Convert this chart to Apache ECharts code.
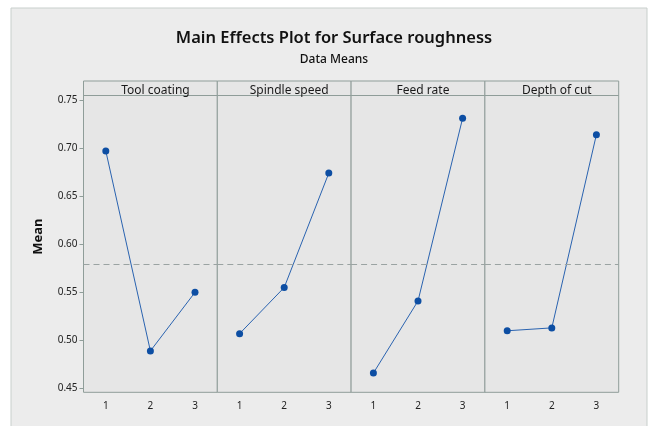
<!DOCTYPE html>
<html>
<head>
<meta charset="utf-8">
<title>Main Effects Plot for Surface roughness</title>
<script src="https://cdn.jsdelivr.net/npm/echarts@6/dist/echarts.min.js"></script>
<style>
  html, body { margin: 0; padding: 0; background: #fff; }
  #chart { width: 652px; height: 426px; }
</style>
</head>
<body>
<div id="chart"></div>
<script>
// factor levels and mean response per level
const factors = ['Tool coating', 'Spindle speed', 'Feed rate', 'Depth of cut'];
const levels = ['1', '2', '3'];
const toolCoating = [0.697, 0.489, 0.550];
const spindleSpeed = [0.507, 0.555, 0.674];
const feedRate = [0.466, 0.541, 0.731];
const depthOfCut = [0.510, 0.513, 0.714];
const grandMean = 0.579;
const yTicks = [0.45, 0.50, 0.55, 0.60, 0.65, 0.70, 0.75];

const seriesData = [toolCoating, spindleSpeed, feedRate, depthOfCut];

const frameColor = '#8f9d99';
const panelLeft = 83.5;
const panelWidth = 133.8;
const panelTop = 81;
const panelHeight = 311.3;
const yMin = 0.4460;
const yMax = 0.7698;
const headerLine = 0.7552; // value where the header strip ends

const chart = echarts.init(document.getElementById('chart'));

const grids = [], xAxes = [], yAxes = [], series = [];
const titles = [
    {
        text: 'Main Effects Plot for Surface roughness',
        left: 329, top: 25, textAlign: 'center',
        textStyle: { fontFamily: 'Noto Sans', fontSize: 16.5, fontWeight: 600, color: '#111' }
    },
    {
        text: 'Data Means',
        left: 329, top: 49, textAlign: 'center',
        textStyle: { fontFamily: 'Noto Sans', fontSize: 12, fontWeight: 500, color: '#111' }
    }
];

factors.forEach((name, i) => {
    const left = panelLeft + i * panelWidth;
    grids.push({
        left: left, top: panelTop, width: panelWidth, height: panelHeight,
        show: true, backgroundColor: '#e6e6e6', borderColor: frameColor, borderWidth: 1
    });
    xAxes.push({
        gridIndex: i,
        type: 'category',
        data: levels,
        boundaryGap: true,
        axisLine: { show: false },
        axisTick: { alignWithLabel: true, length: 4, lineStyle: { color: frameColor } },
        axisLabel: { margin: 9, fontFamily: 'Noto Sans', fontSize: 10, color: '#222' },
        splitLine: { show: false }
    });
    yAxes.push({
        gridIndex: i,
        type: 'value',
        min: yMin, max: yMax,
        show: i === 0,
        name: i === 0 ? 'Mean' : '',
        nameLocation: 'middle',
        nameRotate: 90,
        nameGap: 39,
        nameTextStyle: { fontFamily: 'Noto Sans', fontSize: 13, fontWeight: 'bold', color: '#111' },
        axisLine: { show: false },
        axisTick: { show: true, length: 4, customValues: yTicks, lineStyle: { color: frameColor } },
        axisLabel: {
            customValues: yTicks, margin: 6,
            fontFamily: 'Noto Sans', fontSize: 10, color: '#222',
            formatter: v => v.toFixed(2)
        },
        splitLine: { show: false }
    });
    titles.push({
        text: name,
        left: left + panelWidth / 2, top: 80, textAlign: 'center',
        textStyle: { fontFamily: 'Noto Sans', fontSize: 12, fontWeight: 'normal', color: '#1a1a1a' }
    });
    series.push({
        type: 'line',
        name: name,
        xAxisIndex: i, yAxisIndex: i,
        data: seriesData[i],
        symbol: 'circle',
        symbolSize: 7,
        lineStyle: { color: '#2a63b0', width: 1 },
        itemStyle: { color: '#0d4ea3' },
        silent: true,
        markLine: {
            silent: true,
            symbol: 'none',
            precision: 4,
            label: { show: false },
            data: [
                { yAxis: grandMean, lineStyle: { color: '#9aa3a2', type: [6, 4], width: 1 } },
                { yAxis: headerLine, lineStyle: { color: frameColor, type: 'solid', width: 1 } }
            ]
        }
    });
});

chart.setOption({
    animation: false,
    backgroundColor: '#ffffff',
    title: titles,
    graphic: [{
        type: 'rect',
        z: -10,
        shape: { x: 11, y: 8, width: 636, height: 430 },
        style: { fill: '#ececec', stroke: '#c8cfcc', lineWidth: 1 }
    }],
    grid: grids,
    xAxis: xAxes,
    yAxis: yAxes,
    series: series
});

window.addEventListener('resize', () => chart.resize());
</script>
</body>
</html>
